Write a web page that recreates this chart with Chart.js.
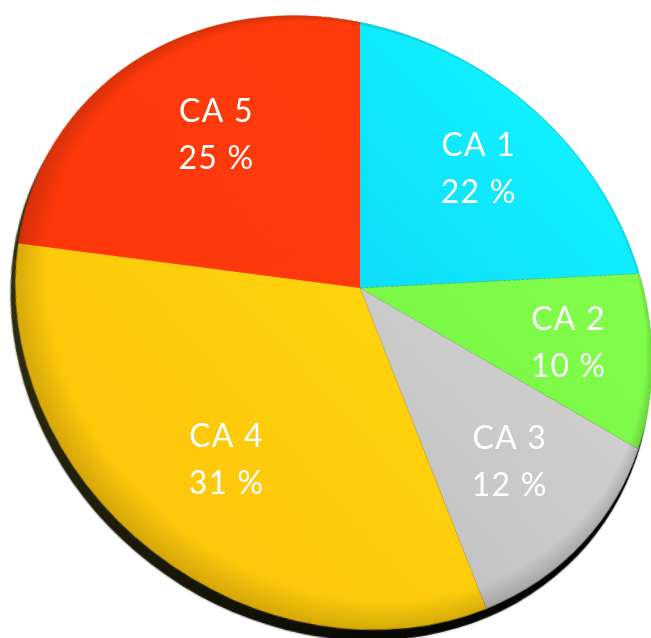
<!DOCTYPE html>
<html>
<head>
<meta charset="utf-8">
<title>CA pie</title>
<script src="https://cdn.jsdelivr.net/npm/chart.js@4.4.1/dist/chart.umd.min.js"></script>
<style>
html, body { margin:0; padding:0; background:#fff; }
#wrap { position:relative; width:651px; height:638px; overflow:hidden; }
#pie {
  position:absolute; left:19px; top:-53px;
  transform-origin:341px 341px;
  transform: perspective(1100px) rotateX(24.6deg) rotateY(17.4deg);
}
#lbl { position:absolute; left:0; top:0; pointer-events:none; }
</style>
</head>
<body>
<div id="wrap">
  <canvas id="pie" width="682" height="682"></canvas>
  <canvas id="lbl" width="651" height="638"></canvas>
</div>
<script>
// data
var labels = ['CA 1', 'CA 2', 'CA 3', 'CA 4', 'CA 5'];
var values = [22, 10, 12, 31, 25];
var lightColors = ['#10f2ff', '#84ff4c', '#dadada', '#ffe20e', '#ff3c0c'];
var darkColors  = ['#0ec6f4', '#72f042', '#b8b8b8', '#fdc20a', '#fd360a'];
var labelDist = [0.65, 0.7, 0.68, 0.68, 0.66];

function sliceFill(c) {
  var ch = c.chart, a = ch.chartArea;
  if (!a) return lightColors[c.dataIndex];
  var g = ch.ctx.createLinearGradient(a.right, a.top, a.left, a.bottom);
  g.addColorStop(0.1, lightColors[c.dataIndex]);
  g.addColorStop(0.95, darkColors[c.dataIndex]);
  return g;
}

// dark rim under the disc (bottom-left thickness)
var rimPlugin = {
  id: 'rim',
  beforeDatasetsDraw: function(chart) {
    var arc = chart.getDatasetMeta(0).data[0];
    if (!arc) return;
    var ctx = chart.ctx, R = arc.outerRadius;
    ctx.save();
    var g = ctx.createLinearGradient(arc.x - R, arc.y - R * 0.3, arc.x + R * 0.3, arc.y + R);
    g.addColorStop(0, '#38360f');
    g.addColorStop(1, '#050505');
    ctx.fillStyle = g;
    ctx.shadowColor = 'rgba(0,0,0,0.3)';
    ctx.shadowBlur = 2;
    ctx.beginPath();
    ctx.arc(arc.x - 3, arc.y + 9, R, 0, Math.PI * 2);
    ctx.fill();
    ctx.restore();
  },
  afterDatasetsDraw: function(chart) {
    var arc = chart.getDatasetMeta(0).data[0];
    if (!arc) return;
    var ctx = chart.ctx, R = arc.outerRadius;
    ctx.save();
    ctx.beginPath();
    ctx.arc(arc.x, arc.y, R, 0, Math.PI * 2);
    ctx.clip();
    // thin bevel at the edge
    var g = ctx.createRadialGradient(arc.x + R * 0.03, arc.y - R * 0.03, R * 0.95, arc.x, arc.y, R);
    g.addColorStop(0, 'rgba(0,0,0,0)');
    g.addColorStop(1, 'rgba(0,0,0,0.16)');
    ctx.fillStyle = g;
    ctx.fillRect(arc.x - R, arc.y - R, 2 * R, 2 * R);
    ctx.restore();
  },
  afterDraw: function(chart) {
    var cv = document.getElementById('lbl');
    var lc = cv.getContext('2d');
    lc.clearRect(0, 0, cv.width, cv.height);
    var pie = chart.canvas;
    var m = new DOMMatrix(getComputedStyle(pie).transform);
    var ox = 341, oy = 341;
    var left = pie.offsetLeft, top = pie.offsetTop;
    var meta = chart.getDatasetMeta(0);
    var total = values.reduce(function(s, v) { return s + v; }, 0);
    lc.fillStyle = '#ffffff';
    lc.font = '32px Lato, "Noto Sans", sans-serif';
    lc.letterSpacing = '1.2px';
    lc.textAlign = 'center';
    lc.textBaseline = 'middle';
    meta.data.forEach(function(arc, i) {
      var mid = (arc.startAngle + arc.endAngle) / 2;
      var px = arc.x + Math.cos(mid) * arc.outerRadius * labelDist[i];
      var py = arc.y + Math.sin(mid) * arc.outerRadius * labelDist[i];
      var p = m.transformPoint(new DOMPoint(px - ox, py - oy, 0, 1));
      var X = p.x / p.w + ox + left;
      var Y = p.y / p.w + oy + top;
      var pct = Math.round(values[i] / total * 100);
      lc.fillText(labels[i], X, Y - 21);
      lc.fillText(pct + ' %', X, Y + 26);
    });
  }
};

var chart = new Chart(document.getElementById('pie'), {
  type: 'pie',
  data: {
    labels: labels,
    datasets: [{
      data: values,
      backgroundColor: sliceFill,
      borderWidth: 0,
      hoverOffset: 0
    }]
  },
  options: {
    responsive: false,
    animation: false,
    events: [],
    layout: { padding: 12 },
    plugins: { legend: { display: false }, tooltip: { enabled: false } }
  },
  plugins: [rimPlugin]
});
</script>
</body>
</html>
